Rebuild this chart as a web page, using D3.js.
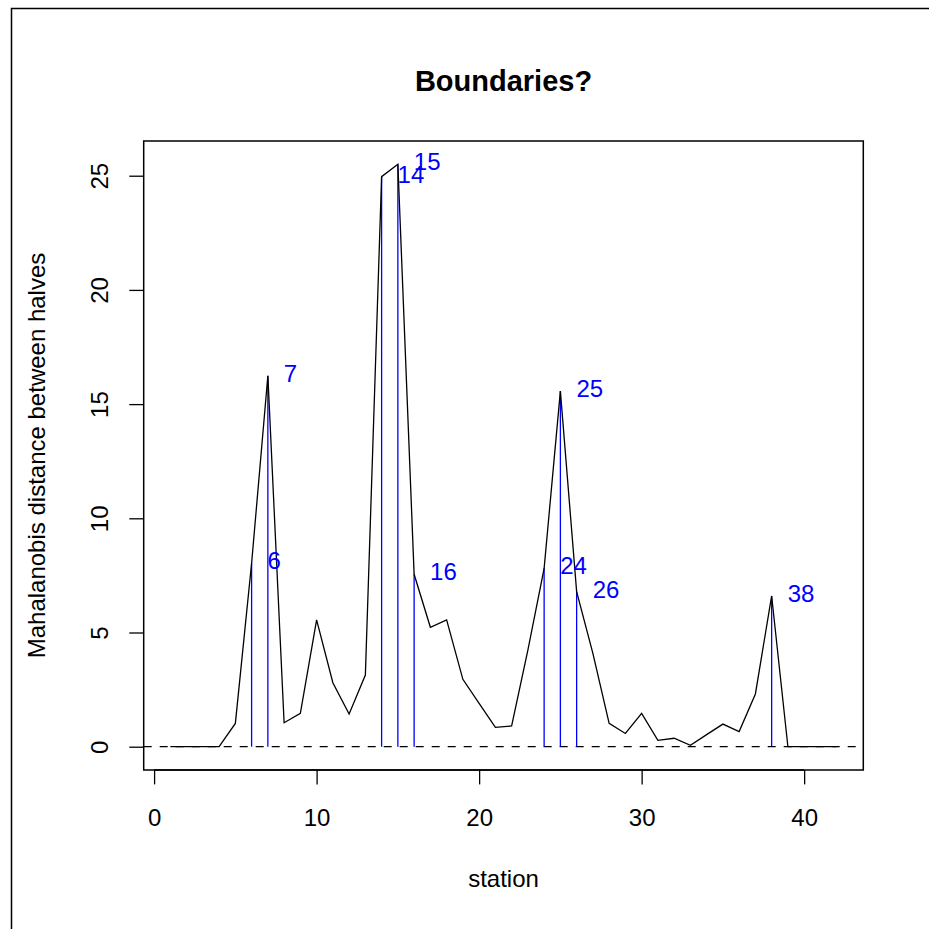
<!DOCTYPE html>
<html>
<head>
<meta charset="utf-8">
<script src="https://cdn.jsdelivr.net/npm/d3@7"></script>
<style>
  body { margin: 0; background: #fff; }
  svg { display: block; font-family: "Liberation Sans", Arial, sans-serif; }
  .axis text { font-size: 24px; fill: #000; }
</style>
</head>
<body>
<svg width="929" height="929"></svg>
<script>
// stations along the transect
var stations = [1, 2, 3, 4, 5, 6, 7, 8, 9, 10, 11, 12, 13, 14, 15, 16, 17, 18, 19, 20, 21,
                22, 23, 24, 25, 26, 27, 28, 29, 30, 31, 32, 33, 34, 35, 36, 37, 38, 39, 40, 41, 42];
// mahalanobis distance between halves
var distance = [0, 0, 0, 0, 1.02, 8.03, 16.24, 1.05, 1.46, 5.55, 2.80, 1.43, 3.14, 24.96, 25.5,
                7.55, 5.23, 5.55, 2.95, 1.90, 0.85, 0.91, 4.23, 7.81, 15.57, 6.79, 4.09, 1.02,
                0.58, 1.46, 0.28, 0.37, 0.06, 0.53, 0.99, 0.66, 2.31, 6.60, 0, 0, 0, 0];
// stations flagged as boundaries
var boundaries = [6, 7, 14, 15, 16, 24, 25, 26, 38];
var xTicks = [0, 10, 20, 30, 40];
var yTicks = [0, 5, 10, 15, 20, 25];

var svg = d3.select("svg");

// plot region (R style, 4% padding on the data range)
// note: "top" is a reserved window global, so use plot* names
var plotLeft = 143.7, plotRight = 863.3, plotTop = 141, plotBottom = 770;

var x = d3.scaleLinear().domain([-0.64, 43.64]).range([plotLeft, plotRight]);
var y = d3.scaleLinear().domain([-1.02, 26.52]).range([plotBottom, plotTop]);

var lookup = new Map(stations.map(function(s, i) { return [s, distance[i]]; }));

// outer figure border
svg.append("rect")
    .attr("x", 11.5).attr("y", 8.5)
    .attr("width", 1000).attr("height", 1000)
    .attr("fill", "none").attr("stroke", "#000").attr("stroke-width", 1.5);

// dashed zero line
svg.append("line")
    .attr("x1", plotLeft).attr("x2", plotRight)
    .attr("y1", y(0)).attr("y2", y(0))
    .attr("stroke", "#000").attr("stroke-width", 1.3)
    .attr("stroke-dasharray", "8,8");

// boundary spikes
svg.append("g")
  .selectAll("line")
    .data(boundaries)
  .enter().append("line")
    .attr("x1", function(d) { return x(d); })
    .attr("x2", function(d) { return x(d); })
    .attr("y1", y(0))
    .attr("y2", function(d) { return y(lookup.get(d)); })
    .attr("stroke", "#0000ff")
    .attr("stroke-width", 1.3);

// distance profile
var line = d3.line()
    .x(function(d, i) { return x(stations[i]); })
    .y(function(d) { return y(d); });

svg.append("path")
    .datum(distance)
    .attr("d", line)
    .attr("fill", "none")
    .attr("stroke", "#000")
    .attr("stroke-width", 1.3);

// boundary labels
svg.append("g")
  .selectAll("text")
    .data(boundaries)
  .enter().append("text")
    .attr("x", function(d) { return x(d) + 16; })
    .attr("y", function(d) { return y(lookup.get(d)) + 6; })
    .attr("fill", "#0000ff")
    .attr("font-size", 24)
    .text(function(d) { return d; });

// plot box
svg.append("rect")
    .attr("x", plotLeft).attr("y", plotTop)
    .attr("width", plotRight - plotLeft).attr("height", plotBottom - plotTop)
    .attr("fill", "none").attr("stroke", "#000").attr("stroke-width", 1.5);

// x axis
var gx = svg.append("g")
    .attr("class", "axis")
    .attr("transform", "translate(0," + plotBottom + ")")
    .call(d3.axisBottom(x).tickValues(xTicks).tickSize(14.4).tickFormat(d3.format("d")));
gx.select(".domain").remove();
gx.selectAll(".tick line").attr("stroke-width", 1.3);
gx.selectAll(".tick text").attr("y", 56).attr("dy", null);
gx.append("line")
    .attr("x1", x(xTicks[0])).attr("x2", x(xTicks[xTicks.length - 1]))
    .attr("stroke", "#000").attr("stroke-width", 1.3);

// y axis
var gy = svg.append("g")
    .attr("class", "axis")
    .attr("transform", "translate(" + plotLeft + ",0)")
    .call(d3.axisLeft(y).tickValues(yTicks).tickSize(14.4).tickFormat(d3.format("d")));
gy.select(".domain").remove();
gy.selectAll(".tick line").attr("stroke-width", 1.3);
gy.selectAll(".tick text")
    .attr("x", 0).attr("dy", null)
    .attr("text-anchor", "middle")
    .attr("transform", "translate(-35.7,0) rotate(-90)");

// titles
svg.append("text")
    .attr("x", (plotLeft + plotRight) / 2).attr("y", 91)
    .attr("text-anchor", "middle")
    .attr("font-size", 29).attr("font-weight", "bold")
    .text("Boundaries?");

svg.append("text")
    .attr("x", (plotLeft + plotRight) / 2).attr("y", 887)
    .attr("text-anchor", "middle")
    .attr("font-size", 24)
    .text("station");

svg.append("text")
    .attr("transform", "translate(45," + (plotTop + plotBottom) / 2 + ") rotate(-90)")
    .attr("text-anchor", "middle")
    .attr("font-size", 24)
    .text("Mahalanobis distance between halves");
</script>
</body>
</html>
